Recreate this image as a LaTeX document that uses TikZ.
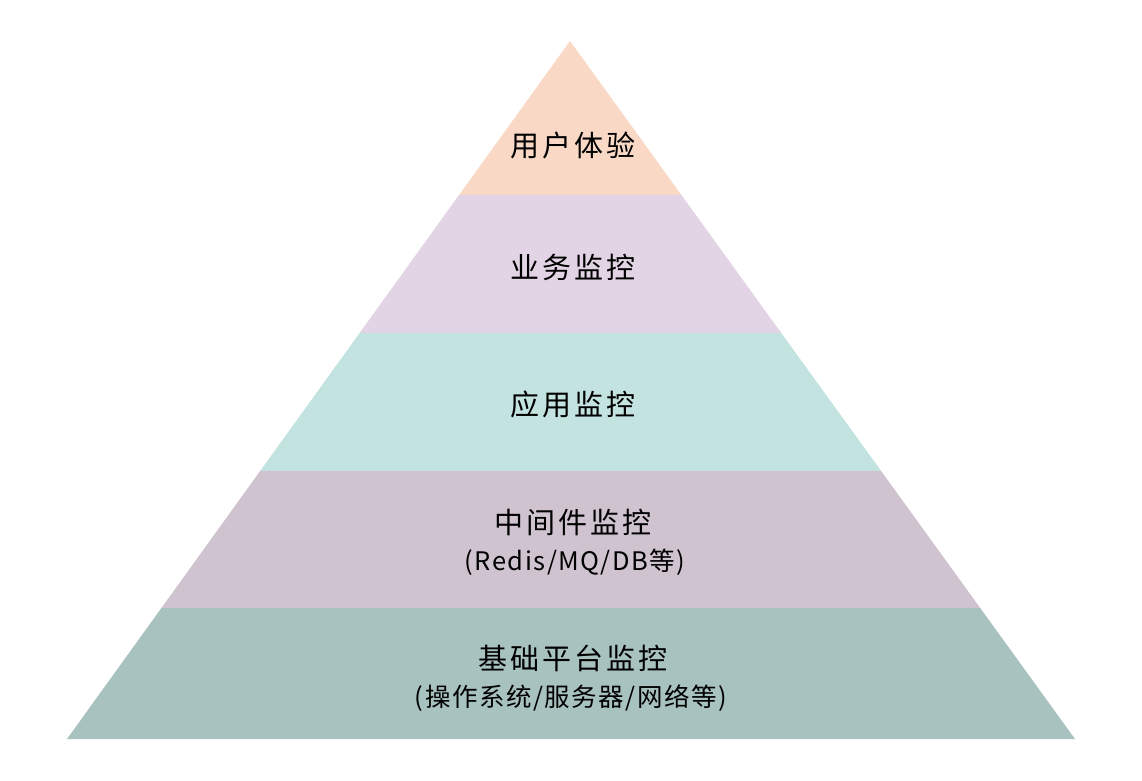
\documentclass[tikz,border=0pt]{standalone}
\usepackage{fontspec}
\newfontfamily\cjk[LetterSpace=10]{Noto Sans CJK SC}
\newfontfamily\cjksub[LetterSpace=6]{Noto Sans CJK SC}
\usetikzlibrary{calc}
\definecolor{cA}{HTML}{F9D9C6}
\definecolor{cB}{HTML}{E2D4E4}
\definecolor{cC}{HTML}{C2E3DF}
\definecolor{cD}{HTML}{CFC3D0}
\definecolor{cE}{HTML}{A8C2BF}
\tikzset{
  lbl/.style={font=\cjk\fontsize{29}{34}\selectfont, text=black, inner sep=0pt},
  sublbl/.style={font=\cjksub\fontsize{25.5}{30}\selectfont, text=black, inner sep=0pt},
}
\begin{document}
\begin{tikzpicture}[x=1pt,y=-1pt]
\useasboundingbox (0,0) rectangle (1142,780);
\coordinate (apex) at (570,41);
\coordinate (bl) at (67,739);
\coordinate (br) at (1075,739);
\coordinate (l1) at ($(apex)!0.2206!(bl)$);
\coordinate (r1) at ($(apex)!0.2206!(br)$);
\coordinate (l2) at ($(apex)!0.4183!(bl)$);
\coordinate (r2) at ($(apex)!0.4183!(br)$);
\coordinate (l3) at ($(apex)!0.6160!(bl)$);
\coordinate (r3) at ($(apex)!0.6160!(br)$);
\coordinate (l4) at ($(apex)!0.8123!(bl)$);
\coordinate (r4) at ($(apex)!0.8123!(br)$);
\fill[cA] (apex) -- (r1) -- (l1) -- cycle;
\fill[cB] (l1) -- (r1) -- (r2) -- (l2) -- cycle;
\fill[cC] (l2) -- (r2) -- (r3) -- (l3) -- cycle;
\fill[cD] (l3) -- (r3) -- (r4) -- (l4) -- cycle;
\fill[cE] (l4) -- (r4) -- (br) -- (bl) -- cycle;
\node[lbl] (t1) at (573,145) {用户体验};
\node[lbl] (t2) at (573,267) {业务监控};
\node[lbl] (t3) at (573,404) {应用监控};
\node[lbl] (t4) at (573,522) {中间件监控};
\node[sublbl] (s4) at (575,562) {(Redis/MQ/DB等)};
\node[sublbl] (s5) at (571,698) {(操作系统/服务器/网络等)};
\node[lbl] (t5) at (573,658) {基础平台监控};
\end{tikzpicture}
\end{document}
